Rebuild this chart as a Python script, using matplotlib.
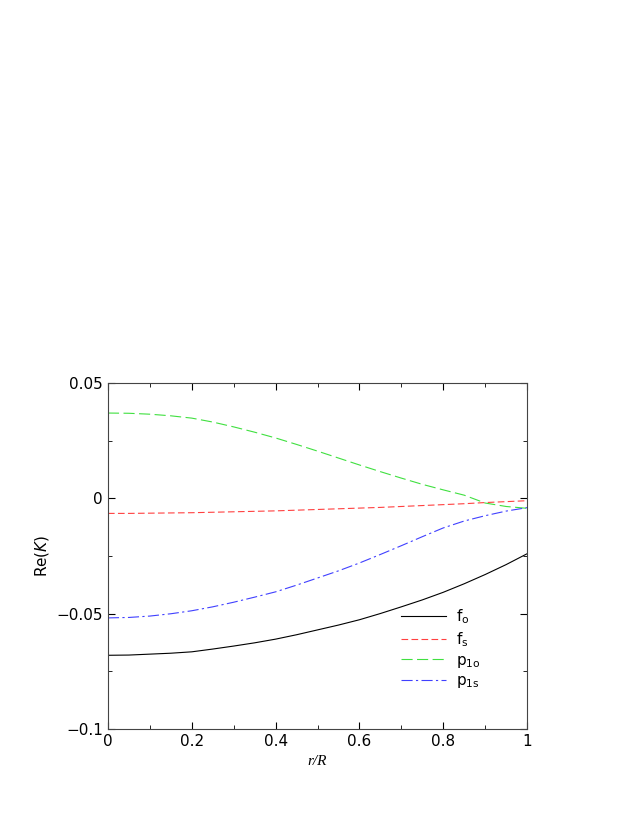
import matplotlib
matplotlib.use("Agg")
import matplotlib.pyplot as plt
from matplotlib.ticker import MultipleLocator, FuncFormatter

r = [0.0, 0.05, 0.1, 0.15, 0.2, 0.25, 0.3, 0.35, 0.4, 0.45, 0.5, 0.55, 0.6, 0.65, 0.7, 0.75, 0.8, 0.85, 0.9, 0.95, 1.0]
f_o = [-0.068, -0.0679, -0.0675, -0.0671, -0.0665, -0.0653, -0.064, -0.0626, -0.061, -0.0591, -0.057, -0.0549, -0.0526, -0.0499, -0.047, -0.0440, -0.0407, -0.0370, -0.033, -0.0287, -0.024]
f_s = [-0.0065, -0.0065, -0.0064, -0.0063, -0.0062, -0.0060, -0.0058, -0.0056, -0.0054, -0.0051, -0.0048, -0.0045, -0.0042, -0.0039, -0.0035, -0.0031, -0.0027, -0.0023, -0.0018, -0.0014, -0.001]
p_1o = [0.037, 0.0369, 0.0365, 0.0358, 0.0348, 0.0331, 0.031, 0.0287, 0.0262, 0.0234, 0.0205, 0.0175, 0.0145, 0.0116, 0.0088, 0.0061, 0.0037, 0.0014, -0.002, -0.0035, -0.0043]
p_1s = [-0.0518, -0.0516, -0.051, -0.050, -0.0487, -0.0470, -0.045, -0.0428, -0.0405, -0.0376, -0.0345, -0.0314, -0.028, -0.0243, -0.0205, -0.0166, -0.0128, -0.0098, -0.0075, -0.0055, -0.004]

fig = plt.figure(figsize=(6.35, 8.22), dpi=100)
ax = fig.add_axes([0.170, 0.113, 0.660, 0.421])
lw = 0.8
ax.plot(r, f_o, color="black", lw=lw, label="f$_\\mathregular{o}$")
ax.plot(r, f_s, color="#ff4040", lw=lw, dashes=(6, 3), label="f$_\\mathregular{s}$")
ax.plot(r, p_1o, color="#40e040", lw=lw, dashes=(10, 4), label="p$_\\mathregular{1o}$")
ax.plot(r, p_1s, color="#4040ff", lw=lw, dashes=(10, 3, 2, 3), label="p$_\\mathregular{1s}$")
ax.set_xlim(0, 1)
ax.set_ylim(-0.1, 0.05)
ax.xaxis.set_major_locator(MultipleLocator(0.2))
ax.xaxis.set_minor_locator(MultipleLocator(0.1))
ax.yaxis.set_major_locator(MultipleLocator(0.05))
ax.yaxis.set_minor_locator(MultipleLocator(0.025))
fmt = FuncFormatter(lambda v, p: "0" if abs(v) < 1e-9 else ("%g" % v).replace("-", "\u2212"))
ax.xaxis.set_major_formatter(FuncFormatter(lambda v, p: "%g" % v))
ax.yaxis.set_major_formatter(fmt)
ax.tick_params(which="both", direction="in", top=True, right=True, labelsize=11)
ax.tick_params(which="major", length=5)
ax.tick_params(which="minor", length=3)
for s in ax.spines.values():
    s.set_linewidth(0.8)
    s.set_color("#444444")
ax.set_xlabel("r/R", fontsize=11, fontstyle="italic", family="Liberation Serif")
ax.set_ylabel("Re($K$)", fontsize=11)
ax.legend(loc="lower left", bbox_to_anchor=(0.68, 0.09), frameon=False, fontsize=11,
          handlelength=3.0, handletextpad=0.6, labelspacing=0.25, borderpad=0)
fig.savefig("out.png", dpi=100)
